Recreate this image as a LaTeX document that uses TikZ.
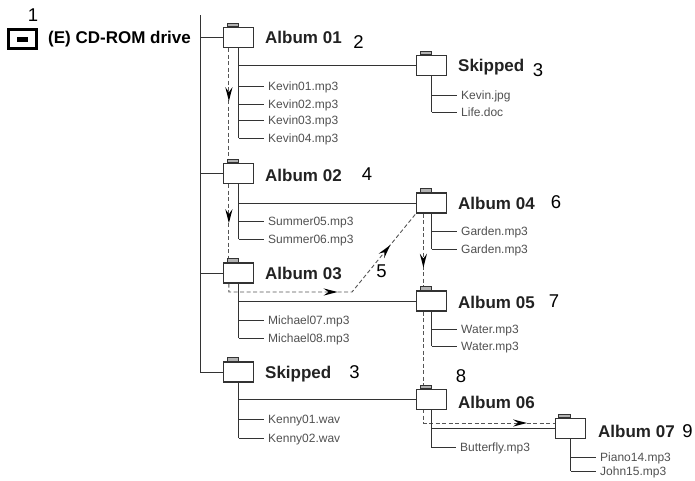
\documentclass[tikz,border=0pt]{standalone}
\usepackage{fontspec}
\setmainfont{Liberation Sans}
\usetikzlibrary{arrows.meta,decorations.markings,backgrounds}
\definecolor{lc}{HTML}{333333}
\definecolor{fc}{HTML}{505050}
\definecolor{dc}{HTML}{555555}
\definecolor{tc}{HTML}{222222}
\newcommand{\myhead}{\fill[black] (0pt,0pt) -- (-14pt,3.6pt) -- (-9pt,0pt) -- (-14pt,-3.6pt) -- cycle;}
\begin{document}
\begin{tikzpicture}[x=1pt,y=-1pt,
  fld/.style={draw=lc,fill=white,line width=1.2pt,minimum width=30pt,minimum height=20pt,inner sep=0pt},
  ftab/.style={draw=lc,fill=black!30,line width=0.9pt},
  br/.style={draw=lc,line width=1pt},
  lbl/.style={anchor=west,inner sep=0pt,text height=12.2pt,text depth=0pt,text=tc,font=\fontsize{17}{20}\selectfont\bfseries},
  num/.style={inner sep=0pt,text height=12.9pt,text depth=0pt,text=black,font=\fontsize{18.5}{20}\selectfont},
  fil/.style={anchor=west,inner ysep=0pt,inner xsep=4pt,text height=8.6pt,text depth=0pt,text=fc,font=\fontsize{12}{14}\selectfont},
  dsh/.style={draw=dc,line width=0.9pt,dash pattern=on 4pt off 2.5pt}
]
\useasboundingbox (0,0) rectangle (695,480);

% drive
\node[draw=black,line width=3.3pt,minimum width=27.7pt,minimum height=18.4pt,inner sep=0pt] (icon) at (22.5,39) {};
\fill[black] ([xshift=-5.8pt,yshift=-2.5pt]icon.center) rectangle ++(11.6pt,5pt);
\node[num] (n1) at (33,15.5) {1};
\node[lbl,text=black] (drive) at (48,37.5) {(E) CD-ROM drive};
\coordinate (top) at (200,15);

% folders
\node[fld] (f01) at (238.5,37.5) {};
\node[fld] (s1)  at (431.5,65.5) {};
\node[fld] (f02) at (238.5,173.5) {};
\node[fld] (f03) at (238.5,273) {};
\node[fld] (f04) at (431.5,203) {};
\node[fld] (f05) at (431.5,301) {};
\node[fld] (s2)  at (238.5,372) {};
\node[fld] (f06) at (431.5,399.5) {};
\node[fld] (f07) at (570.5,428.5) {};
\foreach \f in {f01,s1,f02,f03,f04,f05,s2,f06}
  \draw[ftab] ([xshift=5pt]\f.north west) rectangle ++(11pt,3.5pt);
\draw[ftab] ([xshift=4pt]f07.north west) rectangle ++(12pt,3.5pt);

% labels
\node[lbl] (l01) at (265,37) {Album 01};
\node[lbl] (ls1) at (458,65) {Skipped};
\node[lbl] (l02) at (265,175) {Album 02};
\node[lbl] (l03) at (265,273) {Album 03};
\node[lbl] (l04) at (458,203) {Album 04};
\node[lbl] (l05) at (458,302) {Album 05};
\node[lbl] (ls2) at (265,372) {Skipped};
\node[lbl] (l06) at (458,402) {Album 06};
\node[lbl] (l07) at (598,431) {Album 07};

% numbers
\node[num] (n2) at (358.5,42) {2};
\node[num] (n3a) at (538,70) {3};
\node[num] (n4) at (367,174.5) {4};
\node[num] (n5) at (381.5,271) {5};
\node[num] (n6) at (556,202.5) {6};
\node[num] (n7) at (554,301.5) {7};
\node[num] (n3b) at (354.5,372) {3};
\node[num] (n8) at (461,376.5) {8};
\node[num] (n9) at (687.5,431.5) {9};

% files
\node[fil] (k1) at (264,86) {Kevin01.mp3};
\node[fil] (k2) at (264,104) {Kevin02.mp3};
\node[fil] (k3) at (264,120.5) {Kevin03.mp3};
\node[fil] (k4) at (264,138) {Kevin04.mp3};
\node[fil] (j1) at (457,95) {Kevin.jpg};
\node[fil] (j2) at (457,112) {Life.doc};
\node[fil] (m1) at (264,221) {Summer05.mp3};
\node[fil] (m2) at (264,239) {Summer06.mp3};
\node[fil] (c1) at (264,320) {Michael07.mp3};
\node[fil] (c2) at (264,338) {Michael08.mp3};
\node[fil] (g1) at (457,231) {Garden.mp3};
\node[fil] (g2) at (457,249) {Garden.mp3};
\node[fil] (w1) at (457,329) {Water.mp3};
\node[fil] (w2) at (457,346) {Water.mp3};
\node[fil] (y1) at (264,419) {Kenny01.wav};
\node[fil] (y2) at (264,438) {Kenny02.wav};
\node[fil] (b1) at (456,447) {Butterfly.mp3};
\node[fil] (p1) at (596,457) {Piano14.mp3};
\node[fil] (p2) at (596,471) {John15.mp3};

% main tree
\draw[br] (top) -- (top |- s2.west) -- (s2.west);
\draw[br] (top |- f01.west) -- (f01.west);
\draw[br] (top |- f02.west) -- (f02.west);
\draw[br] (top |- f03.west) -- (f03.west);

% sub trees
\draw[br] (f01.south) -- (f01.south |- k4.west);
\draw[br] (f01.south |- s1.west) -- (s1.west);
\foreach \k in {k1,k2,k3,k4} \draw[br] (f01.south |- \k.west) -- (\k.west);
\draw[br] (s1.south) -- (s1.south |- j2.west);
\foreach \k in {j1,j2} \draw[br] (s1.south |- \k.west) -- (\k.west);
\draw[br] (f02.south) -- (f02.south |- m2.west);
\draw[br] (f02.south |- f04.west) -- (f04.west);
\foreach \k in {m1,m2} \draw[br] (f02.south |- \k.west) -- (\k.west);
\draw[br] (f03.south) -- (f03.south |- c2.west);
\draw[br] (f03.south |- f05.west) -- (f05.west);
\foreach \k in {c1,c2} \draw[br] (f03.south |- \k.west) -- (\k.west);
\draw[br] (f04.south) -- (f04.south |- g2.west);
\foreach \k in {g1,g2} \draw[br] (f04.south |- \k.west) -- (\k.west);
\draw[br] (f05.south) -- (f05.south |- w2.west);
\foreach \k in {w1,w2} \draw[br] (f05.south |- \k.west) -- (\k.west);
\draw[br] (s2.south) -- (s2.south |- y2.west);
\draw[br] (s2.south |- f06.west) -- (f06.west);
\foreach \k in {y1,y2} \draw[br] (s2.south |- \k.west) -- (\k.west);
\draw[br] (f06.south) -- (f06.south |- b1.west) -- (b1.west);
\draw[br] (f06.south |- f07.west) -- (f07.west);
\draw[br] (f07.south) -- (f07.south |- p2.west);
\foreach \k in {p1,p2} \draw[br] (f07.south |- \k.west) -- (\k.west);

% dashed route
\begin{pgfonlayer}{background}
\coordinate (bend) at (352,292);
\draw[dsh,postaction={decorate},decoration={markings,mark=at position 53pt with {\myhead}}]
  ([xshift=6pt]f01.south west) -- ([xshift=6pt]f02.north west);
\draw[dsh,postaction={decorate},decoration={markings,mark=at position 39pt with {\myhead}}]
  ([xshift=6pt]f02.south west) -- ([xshift=6pt]f03.north west);
\draw[dsh,postaction={decorate},decoration={markings,mark=at position 117pt with {\myhead},mark=at position 192pt with {\myhead}}]
  ([xshift=6pt]f03.south west) |- (bend) -- (f04.south west);
\draw[dsh,postaction={decorate},decoration={markings,mark=at position 54pt with {\myhead}}]
  ([xshift=7.5pt]f04.south west) -- ([xshift=7.5pt]f05.north west);
\draw[dsh,postaction={decorate},decoration={markings,mark=at position 215pt with {\myhead}}]
  ([xshift=7.5pt]f05.south west) |- ([yshift=5.5pt]f07.west);
\end{pgfonlayer}
\end{tikzpicture}
\end{document}
